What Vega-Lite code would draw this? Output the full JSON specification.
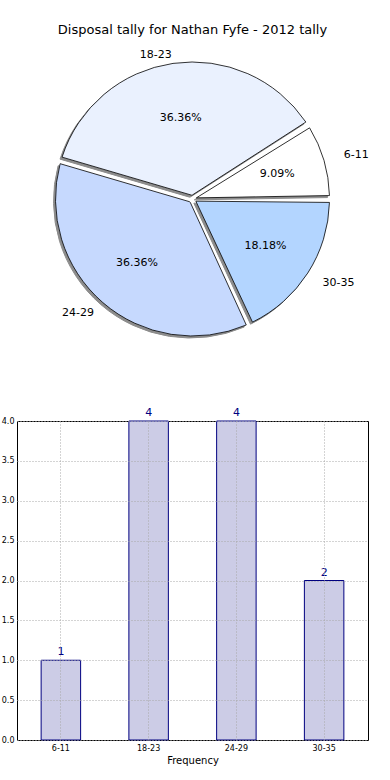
{
  "$schema": "https://vega.github.io/schema/vega-lite/v6.json",
  "padding": {"top": 24, "left": 0, "right": 4, "bottom": 2},
  "background": "white",
  "bounds": "flush",
  "spacing": 67,
  "config": {"font": "DejaVu Sans", "view": {"stroke": null}},
  "data": {"values": [
    {"group": "6-11", "count": 1, "pct": "9.09%"},
    {"group": "18-23", "count": 4, "pct": "36.36%"},
    {"group": "24-29", "count": 4, "pct": "36.36%"},
    {"group": "30-35", "count": 2, "pct": "18.18%"}
  ]},
  "vconcat": [
    {
      "width": 351,
      "height": 310,
      "title": {"text": "Disposal tally for Nathan Fyfe - 2012 tally", "fontSize": 13, "fontWeight": "normal", "font": "DejaVu Sans", "color": "#000000", "offset": 7},
      "view": {"stroke": null},
      "encoding": {
        "theta": {"field": "count", "type": "quantitative", "stack": true, "scale": {"range": [0.9996, -5.2836]}},
        "order": {"field": "group", "type": "nominal", "sort": "ascending"}
      },
      "layer": [
        {
          "mark": {"type": "arc", "outerRadius": 137, "innerRadius": 4, "padAngle": 0.05, "fill": "#8c8c8c", "stroke": "#8c8c8c", "strokeWidth": 1, "xOffset": -2, "yOffset": 2}
        },
        {
          "mark": {"type": "arc", "outerRadius": 137, "innerRadius": 4, "padAngle": 0.05, "stroke": "#000000", "strokeWidth": 0.8},
          "encoding": {
            "color": {"field": "group", "type": "nominal", "legend": null,
              "scale": {"domain": ["6-11", "18-23", "24-29", "30-35"], "range": ["#ffffff", "#eaf1fe", "#c6d9fe", "#b3d5ff"]}}
          }
        },
        {
          "mark": {"type": "text", "fontSize": 11, "font": "DejaVu Sans", "color": "#000000",
            "radius": {"expr": "1/sqrt(pow(sin(0.9996 - PI*(datum.count_start+datum.count_end)/11)/89,2) + pow(cos(0.9996 - PI*(datum.count_start+datum.count_end)/11)/82,2))"}},
          "encoding": {"text": {"field": "pct", "type": "nominal"}}
        },
        {
          "mark": {"type": "text", "fontSize": 11, "font": "DejaVu Sans", "color": "#000000",
            "radius": {"expr": "1/sqrt(pow(sin(0.9996 - PI*(datum.count_start+datum.count_end)/11)/159,2) + pow(cos(0.9996 - PI*(datum.count_start+datum.count_end)/11)/145,2))"},
            "align": {"expr": "datum.group == '6-11' || datum.group == '30-35' ? 'left' : 'right'"}},
          "encoding": {"text": {"field": "group", "type": "nominal"}}
        }
      ]
    },
    {
      "width": 351,
      "height": 319,
      "view": {"stroke": "#000000", "strokeWidth": 1},
      "encoding": {
        "x": {"field": "group", "type": "nominal", "sort": ["6-11", "18-23", "24-29", "30-35"],
          "scale": {"paddingInner": 0.55, "paddingOuter": 0.275},
          "axis": {"title": "Frequency", "titleFontSize": 10, "titleFontWeight": "normal", "titleColor": "#000000", "titlePadding": 3,
            "labelAngle": 0, "labelFontSize": 8, "labelColor": "#000000", "labelPadding": 4,
            "bandPosition": 0.5, "grid": true, "gridColor": "#a8a8a8", "gridDash": [1, 2], "gridWidth": 1,
            "domain": false, "ticks": false, "zindex": 1}},
        "y": {"field": "count", "type": "quantitative",
          "scale": {"domain": [0, 4], "nice": false},
          "axis": {"title": null, "values": [0, 0.5, 1, 1.5, 2, 2.5, 3, 3.5, 4], "format": ".1f",
            "labelFontSize": 8, "labelColor": "#000000", "labelPadding": 3,
            "grid": true, "gridColor": "#a8a8a8", "gridDash": [1, 2], "gridWidth": 1,
            "domain": false, "ticks": false, "zindex": 1}}
      },
      "layer": [
        {"mark": {"type": "bar", "fill": "#ccccE6", "stroke": "#000080", "strokeWidth": 1}},
        {"mark": {"type": "text", "dy": -8, "fontSize": 11, "color": "#000080", "font": "DejaVu Sans"},
          "encoding": {"text": {"field": "count", "type": "quantitative"}}}
      ]
    }
  ]
}
